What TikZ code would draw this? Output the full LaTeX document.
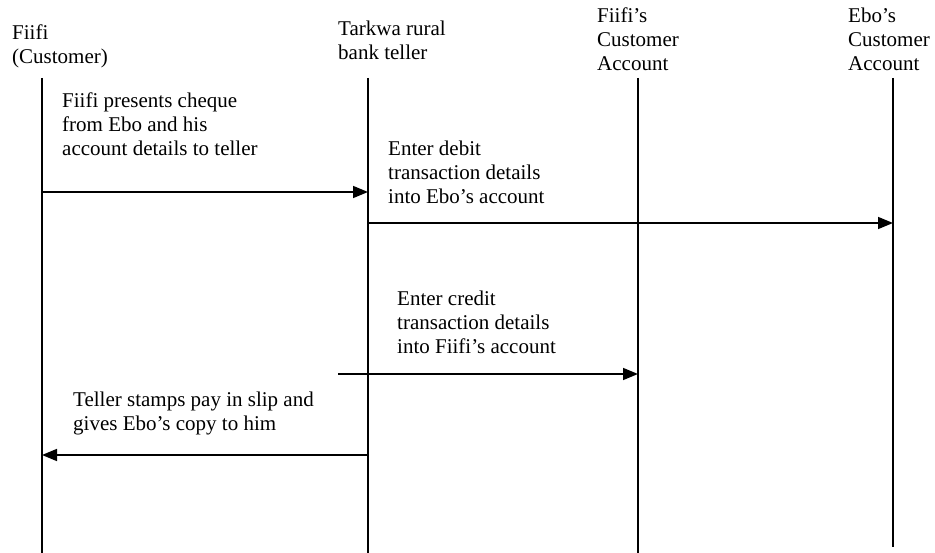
\documentclass[tikz,border=0pt]{standalone}
\usepackage{fontspec}
\setmainfont{Liberation Serif}
\usetikzlibrary{arrows.meta}
\begin{document}
\begin{tikzpicture}[x=1pt,y=-1pt,
  txt/.style={anchor=base west,inner sep=0pt,align=left,font=\fontsize{21}{24}\selectfont},
  life/.style={line width=1.3pt},
  msg/.style={line width=1.6pt,-{Triangle[length=15pt,width=12pt]}}]
\useasboundingbox (0,0) rectangle (935,553);
% headers (anchor = baseline of last line)
\node[txt] (hA) at (12,64) {Fiifi\\(Customer)};
\node[txt] (hB) at (338,60) {Tarkwa rural\\bank teller};
\node[txt] (hC) at (597,71) {Fiifi’s\\Customer\\Account};
\node[txt] (hD) at (848,71) {Ebo’s\\Customer\\Account};
% lifelines
\coordinate (a0) at (42,78);  \coordinate (a1) at (42,553);
\coordinate (b0) at (368,78); \coordinate (b1) at (368,553);
\coordinate (c0) at (638,78); \coordinate (c1) at (638,553);
\coordinate (d0) at (893,78); \coordinate (d1) at (893,547);
\draw[life] (a0) -- (a1);
\draw[life] (b0) -- (b1);
\draw[life] (c0) -- (c1);
\draw[life] (d0) -- (d1);
% messages
\node[txt] (m1) at (62,156) {Fiifi presents cheque\\from Ebo and his\\account details to teller};
\coordinate (m1s) at (42,192); \coordinate (m1e) at (368,192);
\draw[msg] (m1s) -- (m1e);
\node[txt] (m2) at (388,204) {Enter debit\\transaction details\\into Ebo’s account};
\coordinate (m2s) at (368,223); \coordinate (m2e) at (893,223);
\draw[msg] (m2s) -- (m2e);
\node[txt] (m3) at (397,354) {Enter credit\\transaction details\\into Fiifi’s account};
\coordinate (m3s) at (338,374); \coordinate (m3e) at (638,374);
\draw[msg] (m3s) -- (m3e);
\node[txt] (m4) at (73,430) {Teller stamps pay in slip and\\gives Ebo’s copy to him};
\coordinate (m4s) at (368,455); \coordinate (m4e) at (42,455);
\draw[msg] (m4s) -- (m4e);
\end{tikzpicture}
\end{document}
